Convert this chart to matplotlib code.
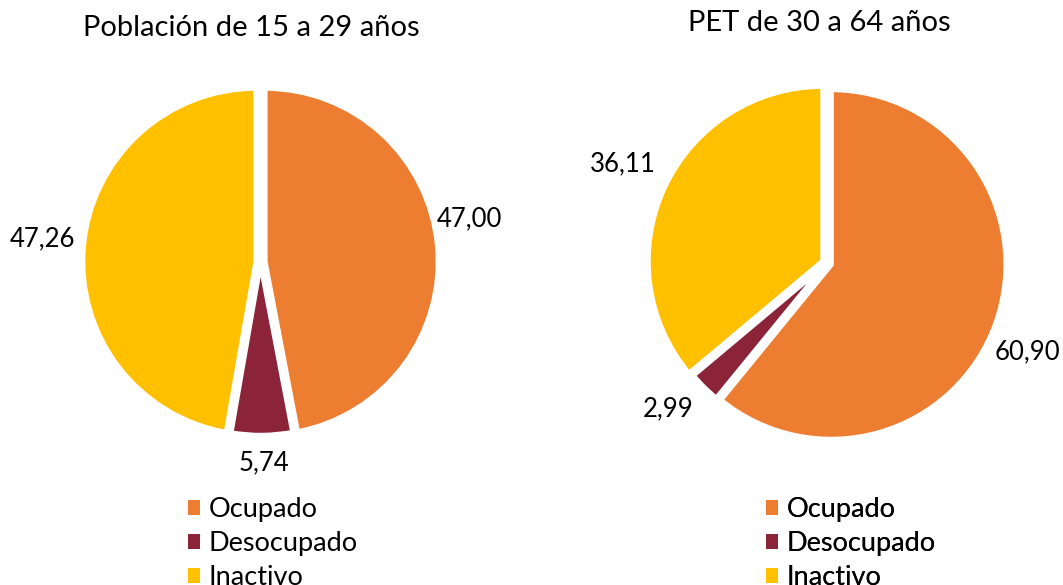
import numpy as np
from matplotlib import pyplot as plt
from matplotlib.patches import Patch

# Datos: distribución porcentual por condición de actividad
categorias = ['Ocupado', 'Desocupado', 'Inactivo']
jovenes = [47.00, 5.74, 47.26]
adultos = [60.90, 2.99, 36.11]
titulos = ['Población de 15 a 29 años', 'PET de 30 a 64 años']

colores = ['#ED7D31', '#8B2439', '#FFC000']

plt.rcParams['font.family'] = ['Lato', 'DejaVu Sans']

W, H = 1063, 585
fig = plt.figure(figsize=(W / 100, H / 100), dpi=100)
ax = fig.add_axes([0, 0, 1, 1])

# centro (x, y en píxeles desde arriba), radio, separación, título, leyenda
graficos = [
    dict(valores=jovenes, centro=(260.5, 262), radio=173.5, sep=4.4,
         titulo=(251.5, 28), leyenda=(187.5, 497),
         giro=[6.2, 0.5, -1.1], dist=[213, 201, 219]),
    dict(valores=adultos, centro=(827, 263), radio=175, sep=4.4,
         titulo=(819, 23), leyenda=(765.5, 497),
         giro=[-4.3, -2.8, -0.8], dist=[219, 216, 227]),
]

for g, titulo in zip(graficos, titulos):
    cx, cy = g['centro'][0], H - g['centro'][1]
    r = g['radio']
    wedges, _ = ax.pie(g['valores'], colors=colores, startangle=90,
                       counterclock=False, center=(cx, cy), radius=r,
                       explode=[g['sep'], 0, g['sep']],
                       wedgeprops=dict(edgecolor='white', linewidth=3.9))

    # etiquetas de valor fuera de cada porción
    for w, v, da, d in zip(wedges, g['valores'], g['giro'], g['dist']):
        ang = np.deg2rad((w.theta1 + w.theta2) / 2 + da)
        ax.text(cx + d * np.cos(ang), cy + d * np.sin(ang),
                f'{v:.2f}'.replace('.', ','), ha='center', va='center',
                fontsize=18.5, color='black')

    ax.text(g['titulo'][0], H - g['titulo'][1], titulo, ha='center',
            va='center', fontsize=21, color='black')

    handles = [Patch(facecolor=c) for c in colores]
    leg = ax.legend(handles, categorias, loc='upper left',
                    bbox_to_anchor=(g['leyenda'][0], H - g['leyenda'][1]),
                    bbox_transform=ax.transData, frameon=False,
                    fontsize=19.5, handlelength=0.46, handleheight=0.46,
                    handletextpad=0.33, labelspacing=0.33,
                    borderpad=0, borderaxespad=0)
    ax.add_artist(leg)

ax.set_xlim(0, W)
ax.set_ylim(0, H)
ax.set_aspect('equal')
ax.axis('off')

fig.savefig('out.png', dpi=100)
